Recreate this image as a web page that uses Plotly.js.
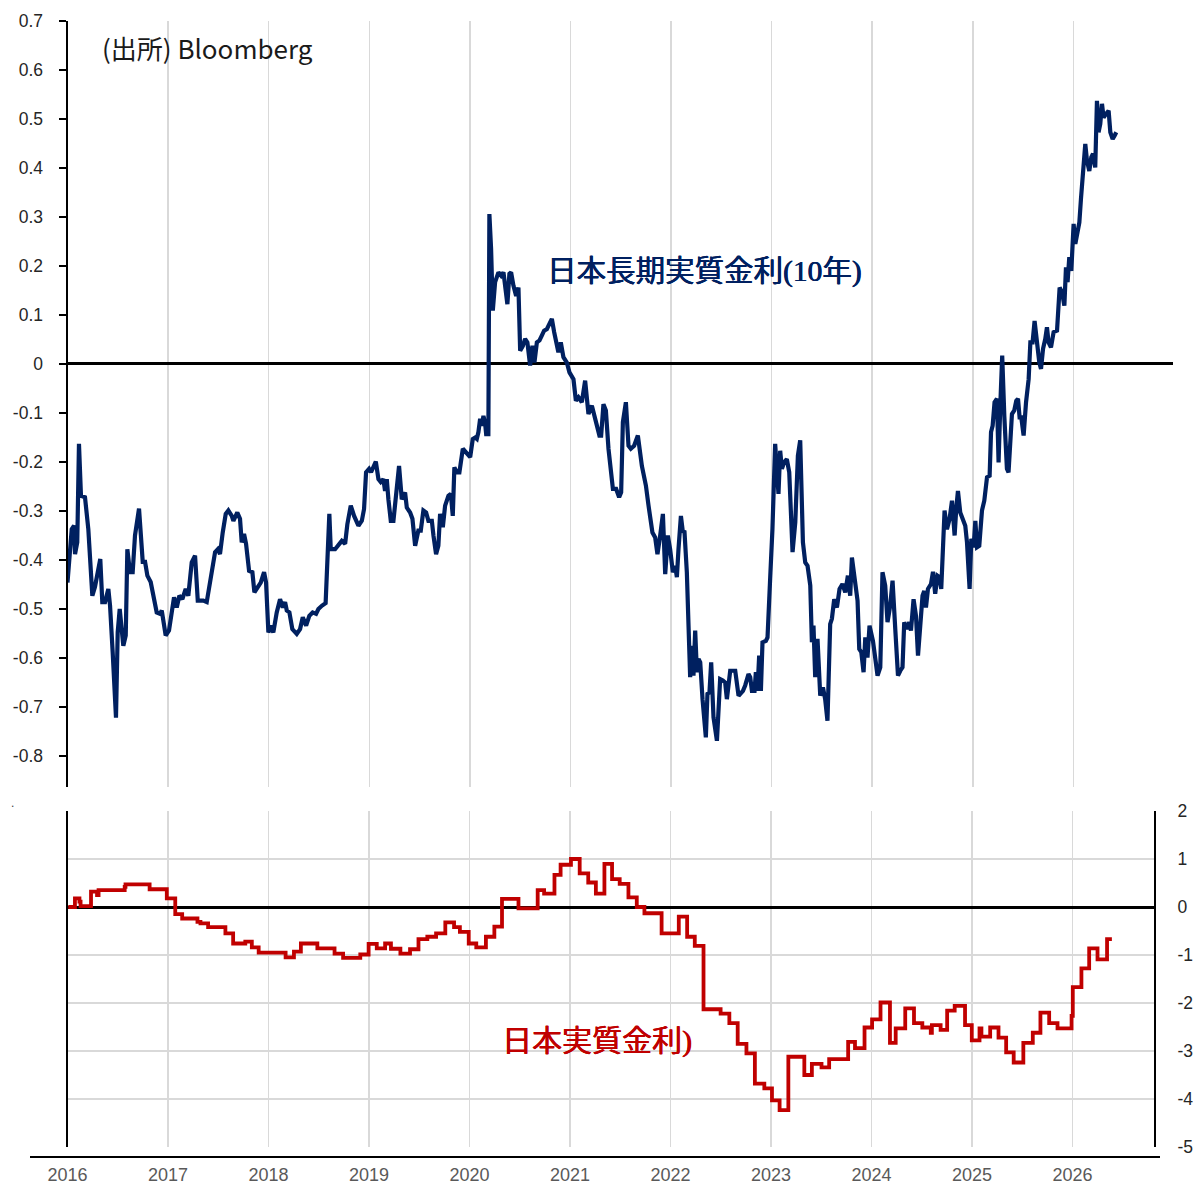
<!DOCTYPE html>
<html>
<head>
<meta charset="utf-8">
<script src="https://cdn.plot.ly/plotly-3.0.1.min.js"></script>
<style>html,body{margin:0;padding:0;background:#fff;}#chart{width:1198px;height:1186px;}</style>
</head>
<body>
<div id="chart"></div>
<script>
// ---- 日本長期実質金利(10年) : decimal year / value (%) ----
const blueYear = [
2016.000,2016.042,2016.065,2016.075,2016.097,2016.114,2016.134,2016.174,2016.207,2016.247,
2016.273,2016.300,2016.326,2016.346,2016.373,2016.406,2016.423,2016.449,2016.482,2016.499,
2016.519,2016.555,2016.579,2016.595,2016.621,2016.648,2016.671,2016.711,2016.748,2016.771,
2016.794,2016.827,2016.853,2016.887,2016.920,2016.937,2016.976,2017.009,2017.059,2017.086,
2017.112,2017.142,2017.175,2017.201,2017.235,2017.268,2017.295,2017.350,2017.384,2017.434,
2017.467,2017.494,2017.516,2017.543,2017.573,2017.599,2017.633,2017.649,2017.688,2017.715,
2017.732,2017.755,2017.775,2017.805,2017.838,2017.858,2017.887,2017.921,2017.954,2017.974,
2017.997,2018.021,2018.046,2018.080,2018.113,2018.140,2018.163,2018.180,2018.206,2018.235,
2018.279,2018.312,2018.339,2018.372,2018.404,2018.437,2018.471,2018.494,2018.531,2018.566,
2018.603,2018.617,2018.660,2018.693,2018.727,2018.760,2018.782,2018.816,2018.849,2018.892,
2018.926,2018.948,2018.968,2018.998,2019.018,2019.065,2019.091,2019.114,2019.140,2019.157,
2019.174,2019.190,2019.214,2019.240,2019.274,2019.296,2019.323,2019.356,2019.373,2019.406,
2019.429,2019.456,2019.488,2019.512,2019.538,2019.565,2019.588,2019.622,2019.638,2019.664,
2019.687,2019.704,2019.731,2019.754,2019.787,2019.811,2019.830,2019.846,2019.870,2019.896,
2019.930,2019.963,2020.003,2020.029,2020.052,2020.069,2020.085,2020.102,2020.119,2020.135,
2020.152,2020.162,2020.184,2020.194,2020.211,2020.228,2020.251,2020.284,2020.311,2020.334,
2020.351,2020.373,2020.393,2020.410,2020.433,2020.460,2020.483,2020.500,2020.527,2020.549,
2020.572,2020.599,2020.622,2020.642,2020.666,2020.692,2020.715,2020.738,2020.765,2020.791,
2020.815,2020.838,2020.865,2020.880,2020.904,2020.930,2020.964,2020.990,2021.030,2021.054,
2021.080,2021.113,2021.146,2021.179,2021.213,2021.255,2021.288,2021.305,2021.328,2021.352,
2021.378,2021.422,2021.454,2021.484,2021.504,2021.521,2021.551,2021.577,2021.600,2021.633,
2021.670,2021.710,2021.750,2021.776,2021.815,2021.842,2021.865,2021.892,2021.919,2021.942,
2021.968,2021.991,2022.018,2022.041,2022.058,2022.074,2022.098,2022.118,2022.133,2022.157,
2022.173,2022.190,2022.207,2022.223,2022.240,2022.257,2022.273,2022.290,2022.313,2022.346,
2022.362,2022.382,2022.399,2022.422,2022.456,2022.488,2022.515,2022.538,2022.555,2022.588,
2022.615,2022.638,2022.671,2022.715,2022.737,2022.770,2022.787,2022.804,2022.830,2022.843,
2022.859,2022.876,2022.893,2022.909,2022.943,2022.959,2022.985,2023.008,2023.035,2023.052,
2023.068,2023.085,2023.102,2023.125,2023.151,2023.175,2023.208,2023.235,2023.261,2023.284,
2023.311,2023.334,2023.357,2023.384,2023.400,2023.416,2023.433,2023.456,2023.483,2023.510,
2023.532,2023.555,2023.582,2023.599,2023.622,2023.649,2023.675,2023.704,2023.732,2023.758,
2023.781,2023.798,2023.821,2023.854,2023.871,2023.891,2023.914,2023.931,2023.953,2023.973,
2024.007,2024.030,2024.053,2024.080,2024.102,2024.129,2024.152,2024.179,2024.202,2024.229,
2024.256,2024.279,2024.301,2024.318,2024.345,2024.368,2024.385,2024.411,2024.435,2024.455,
2024.477,2024.500,2024.517,2024.534,2024.554,2024.584,2024.604,2024.626,2024.649,2024.669,
2024.686,2024.703,2024.719,2024.743,2024.769,2024.793,2024.819,2024.835,2024.852,2024.875,
2024.902,2024.925,2024.942,2024.968,2024.985,2025.008,2025.025,2025.042,2025.064,2025.091,
2025.114,2025.141,2025.167,2025.181,2025.197,2025.216,2025.240,2025.256,2025.273,2025.292,
2025.313,2025.339,2025.355,2025.372,2025.389,2025.412,2025.432,2025.449,2025.465,2025.482,
2025.505,2025.529,2025.555,2025.572,2025.594,2025.614,2025.638,2025.661,2025.678,2025.698,
2025.720,2025.737,2025.753,2025.777,2025.803,2025.837,2025.863,2025.887,2025.910,2025.926,
2025.942,2025.959,2025.979,2026.002,2026.019,2026.042,2026.059,2026.075,2026.095,2026.118,
2026.135,2026.158,2026.178,2026.195,2026.217,2026.234,2026.250,2026.267,2026.284,2026.300,
2026.324,2026.350,2026.367,2026.390,2026.409,2026.426
];
const blueVal = [
-0.446,-0.337,-0.330,-0.388,-0.364,-0.163,-0.269,-0.272,-0.337,-0.473,
-0.455,-0.425,-0.398,-0.486,-0.486,-0.459,-0.493,-0.588,-0.722,-0.547,
-0.500,-0.575,-0.554,-0.378,-0.425,-0.425,-0.350,-0.295,-0.404,-0.404,
-0.432,-0.445,-0.473,-0.507,-0.510,-0.503,-0.554,-0.544,-0.476,-0.497,
-0.473,-0.480,-0.459,-0.473,-0.405,-0.391,-0.483,-0.483,-0.486,-0.425,
-0.384,-0.378,-0.388,-0.344,-0.306,-0.299,-0.310,-0.320,-0.303,-0.316,
-0.364,-0.347,-0.367,-0.422,-0.425,-0.466,-0.456,-0.446,-0.425,-0.446,
-0.548,-0.534,-0.548,-0.507,-0.480,-0.497,-0.486,-0.503,-0.507,-0.541,
-0.551,-0.541,-0.517,-0.534,-0.514,-0.507,-0.510,-0.500,-0.493,-0.488,
-0.306,-0.378,-0.378,-0.371,-0.361,-0.367,-0.327,-0.289,-0.310,-0.330,
-0.320,-0.296,-0.221,-0.214,-0.221,-0.199,-0.235,-0.241,-0.235,-0.259,
-0.235,-0.276,-0.320,-0.320,-0.255,-0.208,-0.276,-0.262,-0.293,-0.303,
-0.316,-0.371,-0.340,-0.340,-0.299,-0.303,-0.320,-0.320,-0.350,-0.388,
-0.371,-0.306,-0.333,-0.289,-0.269,-0.265,-0.310,-0.211,-0.221,-0.221,
-0.173,-0.180,-0.190,-0.153,-0.150,-0.153,-0.139,-0.112,-0.126,-0.106,
-0.122,-0.143,-0.143,0.306,0.235,0.109,0.167,0.187,0.180,0.187,
0.160,0.122,0.184,0.187,0.160,0.139,0.156,0.027,0.037,0.051,
0.044,-0.003,0.037,0.003,0.044,0.048,0.058,0.068,0.071,0.082,
0.092,0.065,0.037,0.024,0.044,0.014,0.003,-0.017,-0.031,-0.075,
-0.068,-0.078,-0.034,-0.102,-0.085,-0.119,-0.146,-0.146,-0.082,-0.095,
-0.173,-0.255,-0.255,-0.272,-0.262,-0.119,-0.078,-0.167,-0.173,-0.167,
-0.146,-0.208,-0.248,-0.289,-0.344,-0.354,-0.388,-0.350,-0.306,-0.429,
-0.350,-0.378,-0.425,-0.412,-0.435,-0.378,-0.310,-0.344,-0.340,-0.425,
-0.507,-0.639,-0.575,-0.636,-0.544,-0.629,-0.602,-0.609,-0.684,-0.762,
-0.673,-0.670,-0.609,-0.721,-0.769,-0.643,-0.646,-0.650,-0.684,-0.626,
-0.626,-0.626,-0.677,-0.667,-0.656,-0.633,-0.639,-0.667,-0.667,-0.629,
-0.667,-0.595,-0.667,-0.568,-0.565,-0.558,-0.439,-0.337,-0.163,-0.221,
-0.265,-0.177,-0.214,-0.200,-0.194,-0.221,-0.384,-0.323,-0.187,-0.156,
-0.364,-0.405,-0.412,-0.452,-0.568,-0.534,-0.639,-0.561,-0.677,-0.660,
-0.684,-0.728,-0.531,-0.520,-0.480,-0.497,-0.459,-0.449,-0.466,-0.432,
-0.473,-0.395,-0.439,-0.483,-0.582,-0.588,-0.629,-0.558,-0.599,-0.534,
-0.565,-0.602,-0.636,-0.619,-0.425,-0.452,-0.527,-0.493,-0.442,-0.541,
-0.636,-0.626,-0.619,-0.527,-0.541,-0.527,-0.544,-0.480,-0.514,-0.595,
-0.541,-0.473,-0.463,-0.497,-0.459,-0.449,-0.424,-0.469,-0.432,-0.435,
-0.459,-0.344,-0.299,-0.337,-0.316,-0.279,-0.350,-0.296,-0.259,-0.303,
-0.316,-0.330,-0.364,-0.459,-0.357,-0.374,-0.320,-0.374,-0.371,-0.299,
-0.279,-0.231,-0.228,-0.139,-0.126,-0.078,-0.071,-0.201,-0.085,0.017,
-0.106,-0.214,-0.221,-0.173,-0.102,-0.095,-0.075,-0.071,-0.109,-0.109,
-0.146,-0.078,-0.031,0.044,0.044,0.088,0.044,0.003,-0.010,0.031,
0.051,0.075,0.044,0.034,0.065,0.068,0.156,0.146,0.119,0.197,
0.167,0.218,0.190,0.286,0.245,0.269,0.289,0.337,0.405,0.449,
0.415,0.394,0.422,0.429,0.401,0.537,0.473,0.490,0.531,0.503,
0.510,0.517,0.473,0.459,0.466,0.473
];

// ---- 日本実質金利 : decimal year (start of each step) / value (%) ----
const redYear = [
2016.008,2016.074,2016.119,2016.130,2016.234,2016.294,2016.309,2016.569,2016.577,2016.817,
2016.988,2017.072,2017.141,2017.293,2017.323,2017.399,2017.571,2017.648,2017.769,2017.834,
2017.902,2018.170,2018.253,2018.322,2018.486,2018.657,2018.742,2018.913,2018.996,2019.077,
2019.160,2019.218,2019.312,2019.408,2019.492,2019.580,2019.667,2019.759,2019.846,2019.904,
2019.992,2020.067,2020.163,2020.247,2020.323,2020.487,2020.678,2020.742,2020.845,2020.906,
2021.009,2021.096,2021.181,2021.257,2021.342,2021.418,2021.494,2021.581,2021.664,2021.740,
2021.911,2022.082,2022.165,2022.241,2022.328,2022.498,2022.585,2022.668,2022.755,2022.839,
2022.933,2023.009,2023.085,2023.172,2023.331,2023.406,2023.502,2023.578,2023.767,2023.835,
2023.930,2024.005,2024.089,2024.183,2024.240,2024.335,2024.422,2024.505,2024.589,2024.600,
2024.687,2024.752,2024.827,2024.930,2024.997,2025.074,2025.093,2025.180,2025.263,2025.339,
2025.414,2025.510,2025.604,2025.680,2025.767,2025.850,2025.990,2026.002,2026.088,2026.165,
2026.248,2026.343,2026.391
];
const redVal = [
0.00,0.18,0.11,0.02,0.32,0.25,0.35,0.42,0.47,0.37,
0.18,-0.15,-0.24,-0.31,-0.34,-0.42,-0.55,-0.76,-0.72,-0.84,
-0.95,-1.05,-0.93,-0.76,-0.86,-0.97,-1.06,-0.99,-0.77,-0.86,
-0.76,-0.87,-0.97,-0.88,-0.67,-0.62,-0.55,-0.32,-0.42,-0.52,
-0.76,-0.84,-0.62,-0.41,0.17,-0.03,0.35,0.28,0.67,0.88,
1.00,0.70,0.51,0.28,0.90,0.58,0.48,0.20,0.00,-0.13,
-0.55,-0.20,-0.62,-0.81,-2.13,-2.22,-2.42,-2.85,-3.05,-3.68,
-3.78,-4.03,-4.23,-3.12,-3.50,-3.27,-3.34,-3.17,-2.81,-2.94,
-2.51,-2.34,-1.99,-2.83,-2.53,-2.11,-2.42,-2.51,-2.62,-2.46,
-2.56,-2.16,-2.06,-2.46,-2.78,-2.53,-2.70,-2.51,-2.72,-3.03,
-3.24,-2.83,-2.62,-2.20,-2.42,-2.53,-2.27,-1.67,-1.28,-0.86,
-1.09,-0.67,-0.67
];

// ---- tick labels ----
const topTicks = [0.7,0.6,0.5,0.4,0.3,0.2,0.1,0,-0.1,-0.2,-0.3,-0.4,-0.5,-0.6,-0.7,-0.8];
const topTickText = ["0.7","0.6","0.5","0.4","0.3","0.2","0.1","0","-0.1","-0.2","-0.3","-0.4","-0.5","-0.6","-0.7","-0.8"];
const botTicks = [2,1,0,-1,-2,-3,-4,-5];
const botTickText = ["2","1","0","-1","-2","-3","-4","-5"];
const yearTicks = [2016,2017,2018,2019,2020,2021,2022,2023,2024,2025,2026];
const yearText = ["2016","2017","2018","2019","2020","2021","2022","2023","2024","2025","2026"];

const W = 1198, H = 1186;
const px = v => v / W;
const py = v => 1 - v / H;

const traces = [
  {x: blueYear, y: blueVal, xaxis: 'x', yaxis: 'y', type: 'scatter', mode: 'lines',
   line: {color: '#002060', width: 4.2, shape: 'linear'}, hoverinfo: 'skip'},
  {x: redYear, y: redVal, xaxis: 'x2', yaxis: 'y2', type: 'scatter', mode: 'lines',
   line: {color: '#C00000', width: 3.8, shape: 'hv'}, hoverinfo: 'skip'}
];

const layout = {
  width: W, height: H,
  margin: {l: 0, r: 0, t: 0, b: 0},
  paper_bgcolor: '#ffffff', plot_bgcolor: 'rgba(0,0,0,0)',
  showlegend: false,
  font: {family: 'Liberation Sans, Arial, sans-serif', color: '#262626', size: 17},
  xaxis: {
    domain: [px(67.5), px(1173)], anchor: 'y',
    range: [2016, 2026.99], tickmode: 'array', tickvals: yearTicks,
    showticklabels: false, ticks: '', showline: false, zeroline: false,
    showgrid: true, gridcolor: '#d9d9d9', gridwidth: 1.5
  },
  yaxis: {
    domain: [py(787), py(21)], anchor: 'x',
    range: [-0.8633, 0.7], tickmode: 'array', tickvals: topTicks, ticktext: topTickText,
    ticks: 'outside', ticklen: 7, tickwidth: 2, tickcolor: '#000000',
    showline: true, linecolor: '#000000', linewidth: 2,
    showgrid: false, zeroline: true, zerolinecolor: '#000000', zerolinewidth: 3,
    ticklabelstandoff: 12,
    tickfont: {size: 17.5, color: '#262626', family: 'Liberation Sans, Arial, sans-serif'}
  },
  yaxis3: {
    overlaying: 'y', anchor: 'x', side: 'left',
    range: [-0.8633, 0.7], tickmode: 'array', tickvals: topTicks,
    ticks: 'inside', ticklen: 6, tickwidth: 2, tickcolor: '#000000',
    showticklabels: false, showline: false, showgrid: false, zeroline: false
  },
  xaxis2: {
    domain: [px(67.5), px(1154)], anchor: 'y2',
    range: [2016, 2026.81], tickmode: 'array', tickvals: yearTicks, ticktext: yearText,
    ticks: 'outside', ticklen: 11, tickcolor: 'rgba(0,0,0,0)',
    showline: false, zeroline: false,
    showgrid: true, gridcolor: '#d9d9d9', gridwidth: 1.5,
    tickfont: {size: 18, color: '#595959', family: 'Liberation Sans, Arial, sans-serif'}
  },
  yaxis2: {
    domain: [py(1147), py(811)], anchor: 'x2', side: 'right',
    range: [-5, 2], tickmode: 'array', tickvals: botTicks, ticktext: botTickText,
    ticks: 'outside', ticklen: 18, tickcolor: 'rgba(0,0,0,0)',
    showline: true, mirror: true, linecolor: '#000000', linewidth: 2,
    showgrid: true, gridcolor: '#d9d9d9', gridwidth: 1.5,
    zeroline: true, zerolinecolor: '#000000', zerolinewidth: 3,
    tickfont: {size: 17.5, color: '#262626', family: 'Liberation Sans, Arial, sans-serif'}
  },
  shapes: [
    {type: 'line', xref: 'paper', yref: 'paper',
     x0: px(30), x1: px(1160), y0: py(1157), y1: py(1157),
     line: {color: '#000000', width: 2}}
  ],
  annotations: [
    {xref: 'paper', yref: 'paper', x: px(100), y: py(48), xanchor: 'left', yanchor: 'middle',
     text: '(出所) Bloomberg', showarrow: false,
     font: {family: 'Noto Sans CJK JP, sans-serif', size: 26, color: '#1a1a1a'}},
    {xref: 'paper', yref: 'paper', x: px(545), y: py(271), xanchor: 'left', yanchor: 'middle',
     text: '日本長期実質金利(10年)', showarrow: false,
     font: {family: 'Liberation Serif, Noto Sans CJK JP, serif', size: 29.5, color: '#002060',
            shadow: '0.5px 0 0 #002060, -0.3px 0 0 #002060'}},
    {xref: 'paper', yref: 'paper', x: px(500), y: py(1041), xanchor: 'left', yanchor: 'middle',
     text: '日本実質金利)', showarrow: false,
     font: {family: 'Liberation Serif, Noto Sans CJK JP, serif', size: 30, color: '#C00000',
            shadow: '0.5px 0 0 #C00000, -0.3px 0 0 #C00000'}},
    {xref: 'paper', yref: 'paper', x: px(12), y: py(803), xanchor: 'center', yanchor: 'middle',
     text: '.', showarrow: false,
     font: {family: 'Liberation Sans, sans-serif', size: 12, color: '#404040'}}
  ]
};

Plotly.newPlot('chart', traces, layout, {staticPlot: true, displayModeBar: false});
</script>
</body>
</html>
